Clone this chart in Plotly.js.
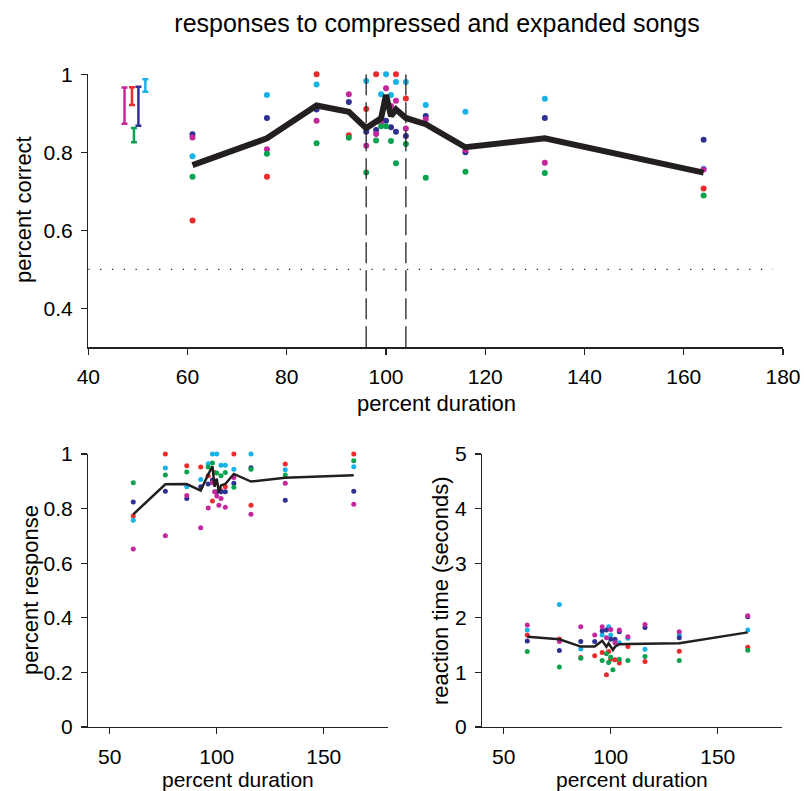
<!DOCTYPE html>
<html>
<head>
<meta charset="utf-8">
<script src="https://cdn.plot.ly/plotly-3.0.1.min.js"></script>
<style>
  html, body { margin: 0; padding: 0; background: #ffffff; }
  #chart { width: 804px; height: 791px; }
</style>
</head>
<body>
<div id="chart"></div>
<script>
// ---------- data ----------
const durations = [61, 76, 86, 92.5, 96, 98, 99, 100, 101, 102, 104, 108, 116, 132, 164];

// top panel: percent correct, per subject
const correctRed     = [0.625, 0.737, 1.000, 0.844, 0.911, 1.000, null, null, null, 1.000, 0.938, null, null, null, 0.707];
const correctCyan    = [0.790, 0.947, 0.974, null, 0.983, null, 0.949, 1.000, 0.947, 0.980, 0.980, 0.921, 0.904, 0.937, 0.758];
const correctBlue    = [0.846, 0.888, 0.910, 0.929, 0.853, 0.857, null, 0.881, 0.864, 0.853, 0.842, 0.893, 0.800, 0.888, 0.832];
const correctMagenta = [0.838, 0.808, 0.881, 0.949, 0.817, 0.847, 0.877, 0.964, 0.919, 0.932, 0.861, 0.885, 0.806, 0.773, 0.756];
const correctGreen   = [0.737, 0.796, 0.823, 0.837, 0.748, 0.830, 0.867, 0.867, 0.829, 0.772, 0.821, 0.735, 0.750, 0.747, 0.689];
const correctMean    = [0.767, 0.836, 0.920, 0.904, 0.862, 0.876, 0.887, 0.947, 0.893, 0.910, 0.888, 0.872, 0.813, 0.836, 0.748];

// per-subject summary bars (top-left of top panel)
const barX    = [47.3, 48.8, 50.1, 49.2, 51.5];
const barLow  = [0.873, 0.921, 0.868, 0.826, 0.955];
const barHigh = [0.966, 0.967, 0.968, 0.862, 0.987];

// reference lines
const chanceLevel = 0.5;
const windowEdges = [96, 104];

// bottom-left: percent response
const respRed     = [0.773, 1.000, 0.957, 0.952, 0.920, 0.828, 0.932, null, null, 0.865, 0.880, 1.000, 0.812, 0.963, 1.000];
const respCyan    = [0.757, 0.949, 0.880, 0.907, 0.964, 1.000, null, 1.000, null, 0.959, 0.959, 0.944, 1.000, 0.942, 0.953];
const respBlue    = [0.824, 0.864, 0.837, 0.880, 0.890, 0.905, null, 0.862, null, 0.862, 0.862, 0.893, 0.950, 0.831, 0.864];
const respMagenta = [0.652, 0.701, 0.848, 0.730, 0.802, 0.895, 0.862, 0.846, 0.812, 0.837, 0.805, 0.914, 0.779, 0.893, 0.816];
const respGreen   = [0.895, 0.923, 0.934, null, 0.952, 0.967, null, 0.930, null, 0.920, 0.932, 0.878, 0.944, 0.923, 0.975];
const respMean    = [0.779, 0.889, 0.890, 0.866, 0.925, 0.955, 0.880, 0.910, 0.860, 0.885, 0.890, 0.927, 0.899, 0.913, 0.922];

// bottom-right: reaction time (seconds)
const rtRed     = [1.685, 1.612, 1.273, 1.303, 1.364, 0.958, 1.382, 1.242, null, 1.230, 1.170, 1.473, 1.200, 1.388, 1.460];
const rtCyan    = [1.776, 2.242, 1.430, null, 1.685, null, 1.836, 1.685, null, null, 1.545, 1.624, 1.424, 1.685, 1.776];
const rtBlue    = [1.576, 1.400, 1.564, 1.564, 1.764, 1.776, null, 1.606, null, 1.606, 1.745, null, 1.824, 1.636, 2.020];
const rtMagenta = [1.867, 1.564, 1.836, 1.685, 1.836, 1.636, null, 1.788, null, 1.545, 1.776, 1.655, 1.879, 1.745, 2.036];
const rtGreen   = [1.382, 1.097, 1.260, null, 1.218, 1.340, 1.182, 1.279, 1.048, null, 1.242, 1.218, 1.290, 1.218, 1.406];
const rtMean    = [1.655, 1.606, 1.473, 1.473, 1.580, 1.470, 1.533, 1.470, 1.410, 1.470, 1.515, 1.521, 1.523, 1.533, 1.733];

const topTicks = [40, 60, 80, 100, 120, 140, 160, 180];
const bottomXTicks = [50, 100, 150];
const correctTicks = [0.4, 0.6, 0.8, 1];
const respTicks = [0, 0.2, 0.4, 0.6, 0.8, 1];
const rtTicks = [0, 1, 2, 3, 4, 5];

// ---------- styling ----------
const RED = '#EC2B2B', CYAN = '#17B2E6', BLUE = '#2F3192', MAGENTA = '#C4279B', GREEN = '#09A24E';
const INK = '#231F20';
const FONT = 'Liberation Sans, Arial, Helvetica, sans-serif';
const W = 804, H = 791;
const px = v => v / W, py = v => 1 - v / H;

function dots(x, y, color, xa, ya, size) {
  return { type: 'scatter', mode: 'markers', x: x, y: y, xaxis: xa, yaxis: ya,
    marker: { color: color, size: size, line: { width: 0 } }, cliponaxis: false,
    hoverinfo: 'skip', showlegend: false };
}
function meanLine(x, y, xa, ya, w) {
  return { type: 'scatter', mode: 'lines', x: x, y: y, xaxis: xa, yaxis: ya,
    line: { color: INK, width: w }, connectgaps: true, cliponaxis: false,
    hoverinfo: 'skip', showlegend: false };
}

const traces = [];
const topSeries = [[correctRed, RED], [correctCyan, CYAN], [correctBlue, BLUE], [correctMagenta, MAGENTA], [correctGreen, GREEN]];
topSeries.forEach(s => traces.push(dots(durations, s[0], s[1], 'x', 'y', 6)));
traces.push(meanLine(durations, correctMean, 'x', 'y', 6));

const barColors = [MAGENTA, RED, BLUE, GREEN, CYAN];
barX.forEach((bx, i) => {
  const mid = (barLow[i] + barHigh[i]) / 2;
  traces.push({ type: 'scatter', mode: 'markers', x: [bx], y: [mid], xaxis: 'x', yaxis: 'y',
    marker: { size: 1, color: 'rgba(0,0,0,0)' }, cliponaxis: false, hoverinfo: 'skip', showlegend: false,
    error_y: { type: 'data', symmetric: false, array: [barHigh[i] - mid], arrayminus: [mid - barLow[i]],
      color: barColors[i], thickness: 2.5, width: 3 } });
});

const blSeries = [[respRed, RED], [respCyan, CYAN], [respBlue, BLUE], [respMagenta, MAGENTA], [respGreen, GREEN]];
blSeries.forEach(s => traces.push(dots(durations, s[0], s[1], 'x2', 'y2', 5)));
traces.push(meanLine(durations, respMean, 'x2', 'y2', 2.5));

const brSeries = [[rtRed, RED], [rtCyan, CYAN], [rtBlue, BLUE], [rtMagenta, MAGENTA], [rtGreen, GREEN]];
brSeries.forEach(s => traces.push(dots(durations, s[0], s[1], 'x3', 'y3', 5)));
traces.push(meanLine(durations, rtMean, 'x3', 'y3', 2.5));

const tickFont = { family: FONT, size: 21, color: '#000' };
function axis(domain, range, ticks, anchor, texts) {
  const a = { domain: domain, range: range, anchor: anchor, showgrid: false, zeroline: false,
    showline: true, linecolor: '#222', linewidth: 1.3, ticks: 'outside', ticklen: 6, tickwidth: 1.3,
    tickcolor: '#222', tickmode: 'array', tickvals: ticks, tickfont: tickFont, fixedrange: true,
    ticklabelstandoff: 4 };
  if (texts) a.ticktext = texts;
  return a;
}

const topX = [px(88.3), px(783)], topY = [py(347.3), py(74.3)];
const blX = [px(88.3), px(388)], brX = [px(482.3), px(782)], botY = [py(727), py(454)];

const layout = {
  width: W, height: H,
  margin: { l: 0, r: 0, t: 0, b: 0 },
  paper_bgcolor: '#fff', plot_bgcolor: '#fff',
  font: { family: FONT, color: '#000' },
  showlegend: false,
  title: { text: 'responses to compressed and expanded songs', font: { family: FONT, size: 25, color: '#000' },
    x: px(437), xanchor: 'center', y: py(23), yanchor: 'middle', xref: 'paper', yref: 'paper' },
  xaxis: axis(topX, [40, 180], topTicks, 'y'),
  yaxis: axis(topY, [0.3, 1.0], correctTicks, 'x', correctTicks.map(String)),
  xaxis2: axis(blX, [40, 180], bottomXTicks, 'y2'),
  yaxis2: axis(botY, [0, 1], respTicks, 'x2', respTicks.map(String)),
  xaxis3: axis(brX, [40, 180], bottomXTicks, 'y3'),
  yaxis3: axis(botY, [0, 5], rtTicks, 'x3', rtTicks.map(String)),
  shapes: [
    { type: 'line', xref: 'x', yref: 'y', x0: 40, x1: 178, y0: chanceLevel, y1: chanceLevel,
      line: { color: '#222', width: 1.3, dash: '1.3px,10.5px' } }
  ].concat(windowEdges.map(e => ({ type: 'line', xref: 'x', yref: 'y', x0: e, x1: e, y0: 0.3, y1: 1.0,
      line: { color: '#222', width: 1.3, dash: '21px,7px' } }))),
  annotations: [
    { text: 'percent duration', xref: 'paper', yref: 'paper', x: px(436), y: py(403), xanchor: 'center', yanchor: 'middle',
      showarrow: false, font: { family: FONT, size: 22, color: '#000' } },
    { text: 'percent correct', xref: 'paper', yref: 'paper', x: px(24), y: py(210), xanchor: 'center', yanchor: 'middle',
      textangle: -90, showarrow: false, font: { family: FONT, size: 22, color: '#000' } },
    { text: 'percent duration', xref: 'paper', yref: 'paper', x: px(238), y: py(779), xanchor: 'center', yanchor: 'middle',
      showarrow: false, font: { family: FONT, size: 21, color: '#000' } },
    { text: 'percent response', xref: 'paper', yref: 'paper', x: px(30), y: py(590), xanchor: 'center', yanchor: 'middle',
      textangle: -90, showarrow: false, font: { family: FONT, size: 22, color: '#000' } },
    { text: 'percent duration', xref: 'paper', yref: 'paper', x: px(632), y: py(779), xanchor: 'center', yanchor: 'middle',
      showarrow: false, font: { family: FONT, size: 21, color: '#000' } },
    { text: 'reaction time (seconds)', xref: 'paper', yref: 'paper', x: px(440), y: py(590), xanchor: 'center', yanchor: 'middle',
      textangle: -90, showarrow: false, font: { family: FONT, size: 22, color: '#000' } }
  ]
};

Plotly.newPlot('chart', traces, layout, { staticPlot: true, displayModeBar: false });
</script>
</body>
</html>
